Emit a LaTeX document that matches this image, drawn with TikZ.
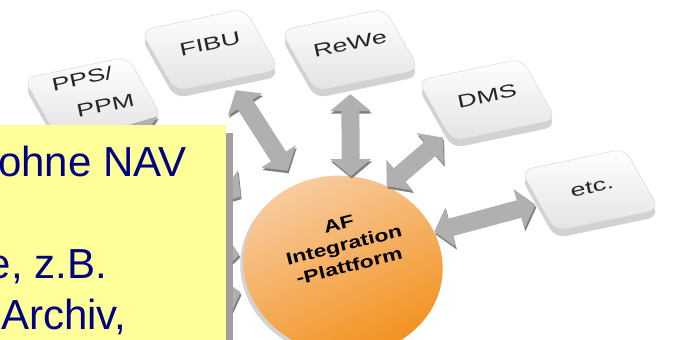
\documentclass[tikz,border=0pt]{standalone}
\usepackage{fontspec}
\setmainfont{Liberation Sans}
\usetikzlibrary{shapes.geometric,arrows.meta,shadows}

\definecolor{notefill}{RGB}{255,255,153}
\definecolor{noteshadow}{RGB}{160,160,160}
\definecolor{notetext}{RGB}{0,0,128}
\definecolor{disclight}{RGB}{248,206,164}
\definecolor{discdark}{RGB}{243,146,32}
\definecolor{arrowgray}{RGB}{176,176,176}
\definecolor{arrowdark}{RGB}{128,128,128}

\tikzset{
  keycap/.style={draw=gray!35, rounded corners=11pt, minimum width=110pt,
    minimum height=106pt, top color=white, bottom color=gray!22,
    drop shadow={shadow xshift=0pt, shadow yshift=-7pt, opacity=0.5, fill=gray!70},
    yscale=0.607, rotate=19},
  keylabel/.style={font=\fontsize{27}{46}\selectfont, text=black!85,
    rotate=12, yscale=0.67, align=left, inner sep=0pt},
  disc/.style={ellipse, minimum width=200pt, minimum height=178pt,
    top color=disclight, bottom color=discdark, shading angle=25,
    drop shadow={shadow xshift=-3pt, shadow yshift=-3pt, opacity=0.35},
    rotate=-10},
  disclabel/.style={font=\fontsize{23}{29}\bfseries\selectfont,
    rotate=14, yscale=0.75, align=center, inner sep=0pt},
  dblarrow/.style={line width=18pt, draw=arrowgray,
    {Triangle[length=17pt,width=40pt]}-{Triangle[length=17pt,width=40pt]},
    preaction={draw=arrowdark, transform canvas={xshift=1pt,yshift=-2.5pt}}},
  notelabel/.style={anchor=base west, inner sep=0pt, text=notetext,
    font=\fontsize{42}{50}\selectfont}
}

\begin{document}
\begin{tikzpicture}[x=1pt,y=1pt]
\useasboundingbox (0,0) rectangle (673,-340);
\clip (0,0) rectangle (673,-340);

% keys round the platform
\node[keycap] (pps) at (93,-98) {};
\node[keycap] (fibu) at (210,-50) {};
\node[keycap] (rewe) at (350,-50) {};
\node[keycap] (dms) at (487,-100) {};
\node[keycap] (etc) at (590,-190) {};

\node[keylabel] (pps-t) at ([yshift=6pt]pps) {PPS/\\\hspace*{0.7em}PPM};
\node[keylabel] (fibu-t) at ([yshift=6pt]fibu) {FIBU};
\node[keylabel] (rewe-t) at ([yshift=6pt]rewe) {ReWe};
\node[keylabel] (dms-t) at ([yshift=4pt]dms) {DMS};
\node[keylabel] (etc-t) at ([xshift=2pt,yshift=3pt]etc) {etc.};

% platform
\node[disc] (af) at (343,-265) {};
\node[disclabel] (af-t) at (344,-245) {AF\\Integration\\-Plattform};

% arrows
\coordinate (west1) at (40,-235);
\coordinate (west2) at (80,-335);
\draw[dblarrow, shorten >=25pt] (pps) -- (af);
\draw[dblarrow, shorten >=4pt] (west1) -- (af);
\draw[dblarrow, shorten >=8pt] (west2) -- (af);
\draw[dblarrow, shorten <=12pt, shorten >=16pt] (fibu) -- (af.130);
\draw[dblarrow, shorten <=10pt] (rewe) -- (af.95);
\draw[dblarrow, shorten <=6pt] (dms) -- (af.71);
\draw[dblarrow, shorten <=4pt] (etc) -- (af.30);

% note box on the left
\fill[noteshadow] (8,-133) rectangle (233,-345);
\fill[notefill] (-5,-125) rectangle (226,-345);
\node[notelabel] (note1) at (-2,-176) {ohne NAV};
\node[notelabel] (note2) at (-12.5,-278) {e, z.B.};
\node[notelabel] (note3) at (1,-329) {Archiv,};
\end{tikzpicture}
\end{document}
